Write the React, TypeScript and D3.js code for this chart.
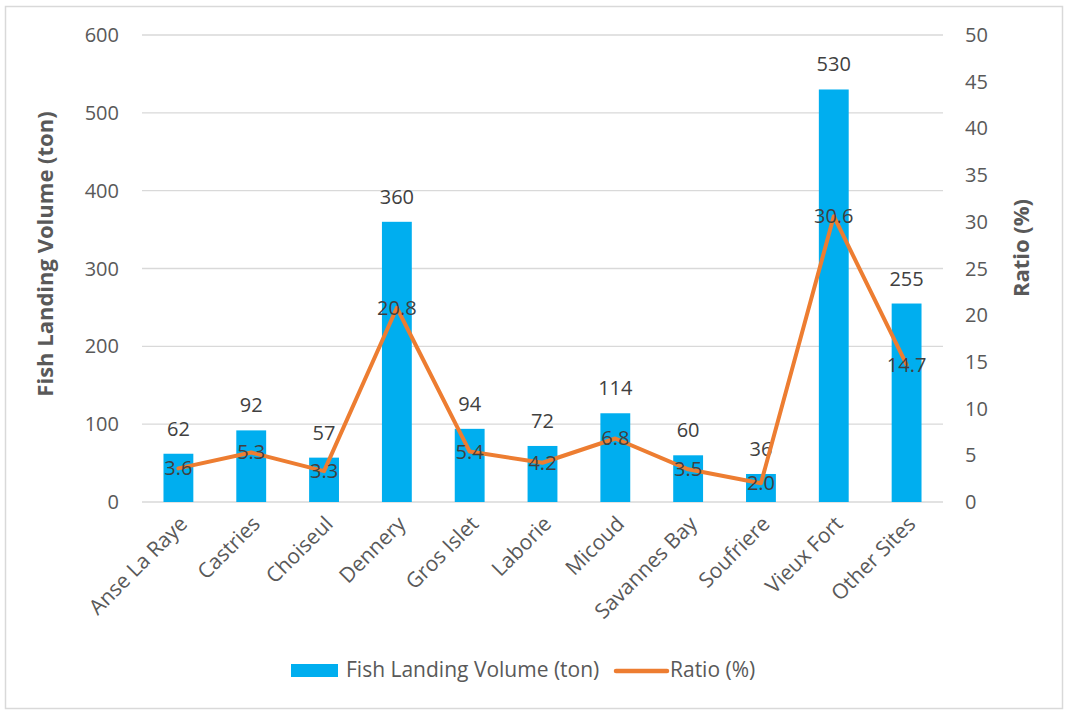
import React from "react";
import * as d3 from "d3";

const categories = ["Anse La Raye", "Castries", "Choiseul", "Dennery", "Gros Islet", "Laborie", "Micoud", "Savannes Bay", "Soufriere", "Vieux Fort", "Other Sites"];
const volumes = [62, 92, 57, 360, 94, 72, 114, 60, 36, 530, 255];
const ratios = [3.6, 5.3, 3.3, 20.8, 5.4, 4.2, 6.8, 3.5, 2.0, 30.6, 14.7];
const leftTicks = [0, 100, 200, 300, 400, 500, 600];
const rightTicks = [0, 5, 10, 15, 20, 25, 30, 35, 40, 45, 50];

const W = 1069, H = 713;
const M = { left: 142, right: 943, top: 35, bottom: 502 };
const FONT = "'Open Sans', 'Liberation Sans', sans-serif";
const BLUE = "#00AEEF";
const ORANGE = "#ED7D31";
const TXT = "#595959";

export default function App() {
  const x = d3.scaleBand<string>().domain(categories).range([M.left, M.right]).paddingInner(0.59).paddingOuter(0.295);
  const xc = (c: string) => (x(c) as number) + x.bandwidth() / 2;
  const yL = d3.scaleLinear().domain([0, 600]).range([M.bottom, M.top]);
  const yR = d3.scaleLinear().domain([0, 50]).range([M.bottom, M.top]);
  const line = d3.line<number>().x((_, i) => xc(categories[i])).y((d) => yR(d));

  return (
    <div style={{ position: "absolute", left: 0, top: 0 }}>
      <svg width={W} height={H} style={{ display: "block", fontFamily: FONT }}>
        <rect x={0} y={0} width={W} height={H} fill="#fff" />
        <rect x={5.5} y={6.5} width={1057} height={702} fill="#fff" stroke="#d9d9d9" strokeWidth={1.5} />
        {leftTicks.map((t) => (
          <g key={"l" + t}>
            <line x1={M.left} x2={M.right} y1={yL(t)} y2={yL(t)} stroke="#d9d9d9" strokeWidth={1.3} />
            <text x={119} y={yL(t)} dy="0.35em" textAnchor="end" fontSize={20} fill={TXT}>{t}</text>
          </g>
        ))}
        {rightTicks.map((t) => (
          <text key={"r" + t} x={965} y={yR(t)} dy="0.35em" textAnchor="start" fontSize={20} fill={TXT}>{t}</text>
        ))}
        <text transform={`translate(53,254) rotate(-90)`} textAnchor="middle" fontSize={22} fontWeight="bold" fill={TXT}>Fish Landing Volume (ton)</text>
        <text transform={`translate(1029,248) rotate(-90)`} textAnchor="middle" fontSize={22} fontWeight="bold" fill={TXT}>Ratio (%)</text>
        {categories.map((c, i) => (
          <g key={c}>
            <rect x={x(c)} y={yL(volumes[i])} width={x.bandwidth()} height={M.bottom - yL(volumes[i])} fill={BLUE} />
            <text x={xc(c)} y={yL(volumes[i]) - 18} textAnchor="middle" fontSize={20} fill="#404040">{volumes[i]}</text>
            <text transform={`translate(${xc(c) + 5},${M.bottom + 18}) rotate(-45)`} textAnchor="end" dy="0.35em" fontSize={21} fill={TXT}>{c}</text>
          </g>
        ))}
        <path d={line(ratios) as string} fill="none" stroke={ORANGE} strokeWidth={4} strokeLinejoin="round" strokeLinecap="round" />
        {categories.map((c, i) => (
          <text key={"rl" + c} x={xc(c)} y={yR(ratios[i])} dy="0.35em" textAnchor="middle" fontSize={20} fill="#404040">{ratios[i].toFixed(1)}</text>
        ))}
        <rect x={291} y={664} width={47} height={13} fill={BLUE} />
        <text x={346} y={670} dy="0.35em" fontSize={21} fill={TXT}>Fish Landing Volume (ton)</text>
        <line x1={616} x2={667} y1={671} y2={671} stroke={ORANGE} strokeWidth={4.5} strokeLinecap="round" />
        <text x={670} y={670} dy="0.35em" fontSize={21} fill={TXT}>Ratio (%)</text>
      </svg>
    </div>
  );
}
